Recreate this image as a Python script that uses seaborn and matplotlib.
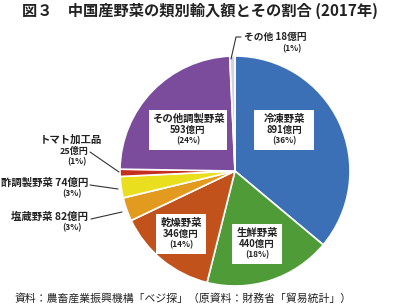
import matplotlib
matplotlib.use('Agg')
import matplotlib.pyplot as plt
import seaborn as sns

categories = ['冷凍野菜', '生鮮野菜', '乾燥野菜', '塩蔵野菜',
              '酢調製野菜', 'トマト加工品', 'その他調製野菜', 'その他']
values = [891, 440, 346, 82, 74, 25, 593, 18]
shares = [36, 18, 14, 3, 3, 1, 24, 1]
colors = ['#3b70b6', '#4f9b38', '#c1521b', '#e29b1f',
          '#eadf1e', '#c52f1f', '#7b4c9c', '#d2d2dc']

sns.set_theme(style='white')
plt.rcParams['font.family'] = ['Noto Sans CJK JP', 'DejaVu Sans']

W, H = 408, 307
fig = plt.figure(figsize=(W / 100, H / 100), dpi=100)
fig.patch.set_facecolor('white')

# pie centre (235,171) px, radius 115 px
cx, cy, r = 235, 171, 115
ax = fig.add_axes([(cx - r) / W, (H - cy - r) / H, 2 * r / W, 2 * r / H])
ax.pie(values, colors=colors, startangle=90, counterclock=False,
       wedgeprops=dict(edgecolor='white', linewidth=1.2))
ax.set_xlim(-1, 1); ax.set_ylim(-1, 1)
ax.set_aspect('equal')
ax.axis('off')


def fx(px):
    return px / W


def fy(py):
    return 1 - py / H


def d(px, py):
    return ((px - cx) / r, (cy - py) / r)


txt = '#222222'

# labels inside the pie (white boxes)
inside = {0: (284, 130, 60), 1: (257, 244, 50), 2: (181, 234, 50), 6: (188, 130, 78)}
for i, (px, py, w) in inside.items():
    x, y = d(px, py)
    ax.add_patch(plt.Rectangle(d(px - w / 2, py + 20), w / r, 40 / r,
                               facecolor='white', edgecolor='none', zorder=3))
    ax.text(x, y + 11 / r, categories[i], ha='center', va='center',
            fontsize=7.5, fontweight='bold', color=txt, zorder=4)
    ax.text(x, y, f'{values[i]}億円', ha='center', va='center',
            fontsize=6.8, fontweight='bold', color=txt, zorder=4)
    ax.text(x, y - 11 / r, f'({shares[i]}%)', ha='center', va='center',
            fontsize=6, fontweight='bold', color=txt, zorder=4)

# outside labels with leader lines
lc = '#333333'
ax.plot(*zip(d(231, 59), d(236, 37), d(241, 37)), color=lc, lw=0.8, clip_on=False)
fig.text(fx(244), fy(37), f'{categories[7]} {values[7]}億円', ha='left', va='center',
         fontsize=7, fontweight='bold', color=txt)
fig.text(fx(292), fy(49), f'({shares[7]}%)', ha='center', va='center',
         fontsize=6, fontweight='bold', color=txt)

ax.plot(*zip(d(90, 152), d(119, 172)), color=lc, lw=0.8, clip_on=False)
fig.text(fx(71), fy(140), categories[5], ha='center', va='center',
         fontsize=7.5, fontweight='bold', color=txt)
fig.text(fx(88), fy(151), f'{values[5]}億円', ha='right', va='center',
         fontsize=6.5, fontweight='bold', color=txt)
fig.text(fx(77), fy(162), f'({shares[5]}%)', ha='center', va='center',
         fontsize=6, fontweight='bold', color=txt)

ax.plot(*zip(d(90, 185), d(118, 189)), color=lc, lw=0.8, clip_on=False)
fig.text(fx(88), fy(183), f'{categories[4]} {values[4]}億円', ha='right', va='center',
         fontsize=7.5, fontweight='bold', color=txt)
fig.text(fx(72), fy(194), f'({shares[4]}%)', ha='center', va='center',
         fontsize=6, fontweight='bold', color=txt)

ax.plot(*zip(d(91, 219), d(122, 212)), color=lc, lw=0.8, clip_on=False)
fig.text(fx(88), fy(217), f'{categories[3]} {values[3]}億円', ha='right', va='center',
         fontsize=7.5, fontweight='bold', color=txt)
fig.text(fx(72), fy(228), f'({shares[3]}%)', ha='center', va='center',
         fontsize=6, fontweight='bold', color=txt)

fig.text(fx(22), fy(11), '図３　中国産野菜の類別輸入額とその割合 (2017年)',
         ha='left', va='center', fontsize=11, fontweight='bold', color=txt)
fig.text(fx(14), fy(298), '資料：農畜産業振興機構「ベジ探」（原資料：財務省「貿易統計」）',
         ha='left', va='center', fontsize=7.8, color=txt)

fig.savefig('out.png', dpi=100, facecolor='white')
